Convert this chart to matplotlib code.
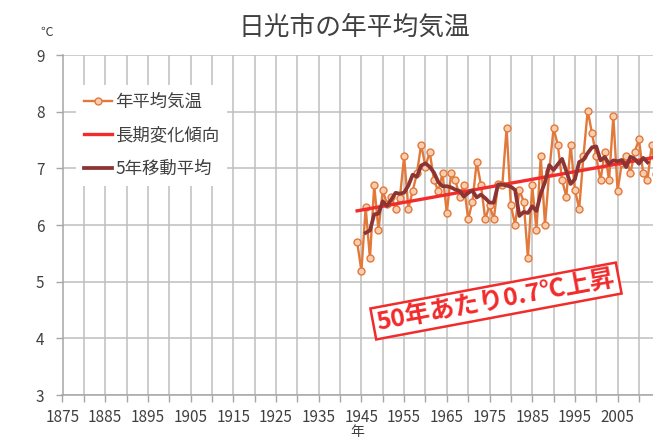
import numpy as np
import pandas as pd
import matplotlib
matplotlib.use("Agg")
import matplotlib.pyplot as plt
from matplotlib.ticker import FixedLocator, FixedFormatter

plt.rcParams['font.family'] = ['Noto Sans CJK JP', 'DejaVu Sans']

# ---- data ----
years = list(range(1944, 2015))
temps = [5.70, 5.19, 6.31, 5.41, 6.70, 5.91, 6.61, 6.37, 6.50, 6.29,   # 1944-1953
         6.47, 7.21, 6.29, 6.60, 6.91, 7.42, 7.03, 7.29, 6.79, 6.60,   # 1954-1963
         6.91, 6.21, 6.91, 6.79, 6.50, 6.71, 6.10, 6.41, 7.11, 6.71,   # 1964-1973
         6.10, 6.35, 6.10, 6.72, 6.70, 7.71, 6.35, 6.00, 6.62, 6.41,   # 1974-1983
         5.42, 6.70, 5.91, 7.21, 6.00, 6.95, 7.71, 7.41, 6.79, 6.50,   # 1984-1993
         7.42, 6.62, 6.29, 7.21, 8.02, 7.62, 7.21, 6.79, 7.29, 6.79,   # 1994-2003
         7.92, 6.60, 7.10, 7.21, 6.91, 7.29, 7.51, 6.91, 6.79, 7.42,   # 2004-2013
         6.90]                                                         # 2014
series_labels = ['年平均気温', '長期変化傾向', '5年移動平均']
xtick_labels = ['1875', '1885', '1895', '1905', '1915', '1925', '1935',
                '1945', '1955', '1965', '1975', '1985', '1995', '2005']
ytick_labels = ['3', '4', '5', '6', '7', '8', '9']
title_text = '日光市の年平均気温'
unit_text = '℃'
xlabel_text = '年'
note_text = '50年あたり0.7℃上昇'

# ---- derived series ----
yrs = np.array(years, dtype=float)
vals = np.array(temps)
coef = np.polyfit(yrs, vals, 1)
trend = np.polyval(coef, yrs)
ma5 = pd.Series(vals).rolling(5, center=True).mean().to_numpy()

# ---- figure ----
W, H = 653, 440
fig = plt.figure(figsize=(W / 100, H / 100), dpi=100)
left_px, right_px, top_px, bot_px = 62.5, 653, 55, 395
ax = fig.add_axes([left_px / W, (H - bot_px) / H, (right_px - left_px) / W, (bot_px - top_px) / H])

text_col = '#404040'
grid_col = '#BFBFBF'
orange = '#E2793A'
red = '#F22B2B'
dark = '#8C3333'

ax.plot(yrs, vals, color=orange, lw=1.7, marker='o', ms=5.0, mfc='#F9CDB0',
        mec=orange, mew=1.0, label=series_labels[0], zorder=3)
ax.plot(yrs, trend, color=red, lw=2.4, label=series_labels[1], zorder=4)
ax.plot(yrs, ma5, color=dark, lw=2.7, label=series_labels[2], zorder=5)

ax.set_xlim(1875, 1875 + (right_px - left_px) / 4.27)
ax.set_ylim(3, 9)

xt_major = [1875 + 5 * i for i in range(28)]
ax.xaxis.set_major_locator(FixedLocator(xt_major))
lab_map = {int(l): l for l in xtick_labels}
ax.xaxis.set_major_formatter(FixedFormatter([lab_map.get(t, '') for t in xt_major]))
ax.yaxis.set_major_locator(FixedLocator([int(t) for t in ytick_labels]))
ax.yaxis.set_major_formatter(FixedFormatter(ytick_labels))

ax.grid(True, color=grid_col, lw=1.1, zorder=0)
ax.set_axisbelow(True)
for s in ['top', 'right']:
    ax.spines[s].set_visible(False)
for s in ['left', 'bottom']:
    ax.spines[s].set_color('#A6A6A6')
    ax.spines[s].set_linewidth(1.1)
ax.tick_params(axis='both', direction='out', length=5, width=1.0, color='#A6A6A6',
               labelcolor=text_col, labelsize=11)
ax.tick_params(axis='x', pad=5)
ax.tick_params(axis='y', pad=8)

leg = ax.legend(loc='upper left', bbox_to_anchor=(76 / W, 1 - 85 / H),
                bbox_transform=fig.transFigure, borderaxespad=0,
                frameon=True, fancybox=False, framealpha=1.0, facecolor='white',
                edgecolor='none', fontsize=12.5, labelcolor=text_col,
                handlelength=1.6, handletextpad=0.2, labelspacing=0.9,
                borderpad=0.45)
leg.set_zorder(6)

fig.text(354 / W, 1 - 28 / H, title_text, ha='center', va='center',
         fontsize=18.5, color=text_col)
fig.text(47 / W, 1 - 32 / H, unit_text, ha='center', va='center',
         fontsize=9, color=text_col)
fig.text(357 / W, 1 / H, xlabel_text, ha='center', va='bottom',
         fontsize=10, color=text_col)

fig.text(496 / W, 1 - 301 / H, note_text, ha='center', va='center',
         rotation=10.6, rotation_mode='anchor', fontsize=18, fontweight='bold',
         color=red, zorder=10,
         bbox=dict(boxstyle='square,pad=0.15', fc='white', ec=red, lw=1.8))

fig.savefig('out.png', dpi=100)
